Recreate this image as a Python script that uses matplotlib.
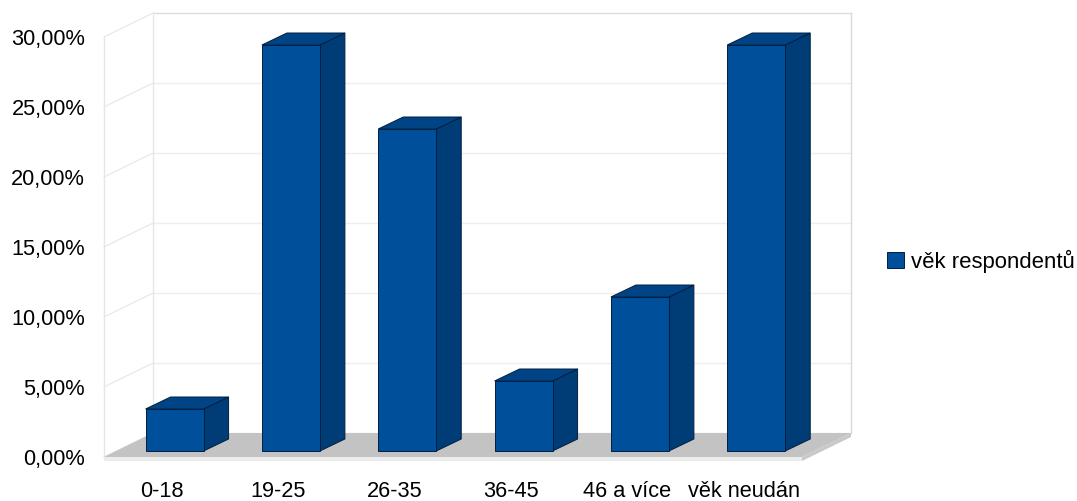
import numpy as np
import matplotlib
matplotlib.use('Agg')
import matplotlib.pyplot as plt
from matplotlib.patches import Patch, Polygon

# Data
categories = ['0-18', '19-25', '26-35', '36-45', '46 a více', 'věk neudán']
values = [3, 29, 23, 5, 11, 29]
y_ticks = [0, 5, 10, 15, 20, 25, 30]
y_labels = ['0,00%', '5,00%', '10,00%', '15,00%', '20,00%', '25,00%', '30,00%']
series_name = 'věk respondentů'

W, H = 1077, 501
plt.rcParams['font.family'] = ['Liberation Sans', 'DejaVu Sans']

FACE = '#004f9b'
SIDE = '#003c75'
TOP = '#004485'
EDGE = '#001f40'
FONT = 15.7

fig = plt.figure(figsize=(W / 100, H / 100), dpi=100)
ax = fig.add_axes([104 / W, 1 - 457 / H, 698 / W, 420 / H])
ax.set_xlim(-0.5, 5.5)
ax.set_ylim(0, 30)
for s in ax.spines.values():
    s.set_visible(False)

# depth vector of the fake 3D box, in data units
px_x = 698 / 6
px_y = 420 / 30
DX = 49 / px_x
DY = 24 / px_y


def poly(pts, fc, ec='none', lw=0.0, z=1):
    ax.add_patch(Polygon(pts, closed=True, fc=fc, ec=ec, lw=lw, zorder=z,
                         clip_on=False, joinstyle='miter'))


# walls
wall = '#e6e6e6'
for t in y_ticks:
    col = '#dddddd' if t == 30 else '#eeeeee'
    ax.plot([-0.5 + DX, 5.5 + DX], [t + DY, t + DY], color=col, lw=1, zorder=0, clip_on=False)
    ax.plot([-0.5, -0.5 + DX], [t, t + DY], color=wall, lw=0.8, zorder=0, clip_on=False)
ax.plot([-0.5, -0.5], [0, 30], color=wall, lw=1, zorder=0, clip_on=False)
ax.plot([-0.5 + DX, -0.5 + DX], [0 + DY, 30 + DY], color=wall, lw=1, zorder=0, clip_on=False)
ax.plot([5.5 + DX, 5.5 + DX], [0 + DY, 30 + DY], color='#d8d8d8', lw=1, zorder=0, clip_on=False)

# floor slab
slab = 4 / px_y
poly([(-0.5, 0), (5.5, 0), (5.5 + DX, DY), (-0.5 + DX, DY)], '#c3c3c3', z=1)
poly([(-0.5, 0), (5.5, 0), (5.5, -slab), (-0.5, -slab)], '#ececec', z=1)
poly([(5.5, 0), (5.5 + DX, DY), (5.5 + DX, DY - slab), (5.5, -slab)], '#c9c9c9', z=1)

# bars
bar_w = 58 / px_x
off_x = 12.4 / px_x
off_y = 6 / px_y
dep_x = 25 / px_x
dep_y = 12 / px_y
for i, v in enumerate(values):
    x0 = i - bar_w / 2 + off_x
    x1 = x0 + bar_w
    y0 = off_y
    y1 = off_y + v
    poly([(x1, y0), (x1 + dep_x, y0 + dep_y), (x1 + dep_x, y1 + dep_y), (x1, y1)], SIDE, EDGE, 0.7, 3)
    poly([(x0, y1), (x1, y1), (x1 + dep_x, y1 + dep_y), (x0 + dep_x, y1 + dep_y)], TOP, EDGE, 0.7, 3)
    poly([(x0, y0), (x1, y0), (x1, y1), (x0, y1)], FACE, EDGE, 0.7, 4)

ax.set_xticks(range(6))
ax.set_xticklabels(categories, fontsize=FONT)
ax.set_yticks(y_ticks)
ax.set_yticklabels(y_labels, fontsize=FONT)
ax.tick_params(axis='x', length=0, pad=17)
ax.tick_params(axis='y', length=0, pad=13.5)

handle = Patch(fc=FACE, ec=EDGE, lw=0.7, label=series_name)
fig.legend(handles=[handle], loc='center left', bbox_to_anchor=(867 / W, 1 - 261 / H),
           frameon=False, fontsize=15.9, handlelength=0.77, handleheight=0.77, handletextpad=0.32)

fig.savefig('out.png', dpi=100)
